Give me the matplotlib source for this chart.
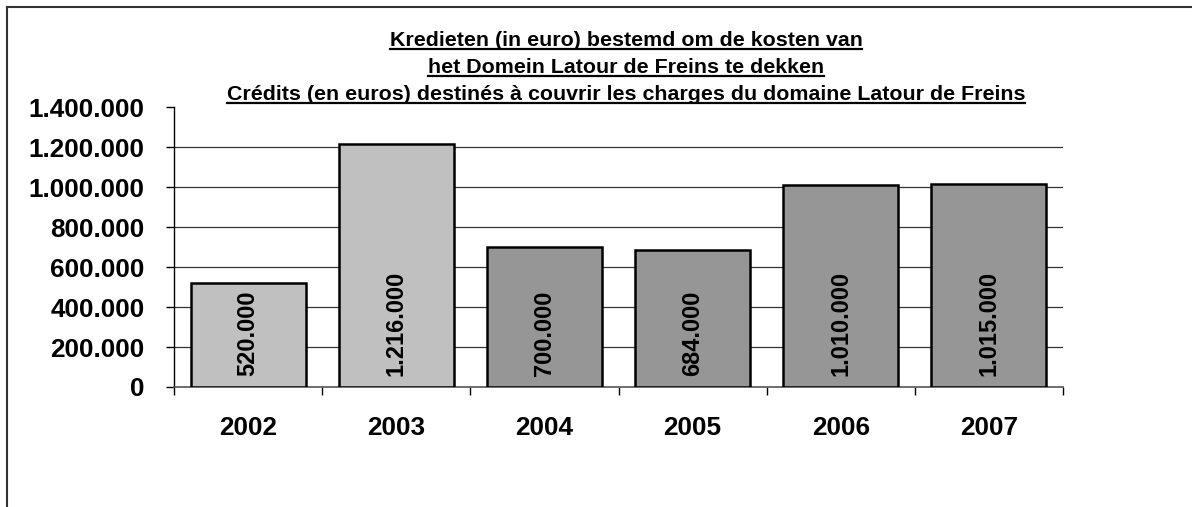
import matplotlib
matplotlib.use("Agg")
import matplotlib.pyplot as plt
from matplotlib.lines import Line2D

plt.rcParams['font.family'] = ['Liberation Sans', 'DejaVu Sans']

# data
years = ['2002', '2003', '2004', '2005', '2006', '2007']
credits = [520000, 1216000, 700000, 684000, 1010000, 1015000]
value_labels = ['520.000', '1.216.000', '700.000', '684.000', '1.010.000', '1.015.000']
y_ticks = [0, 200000, 400000, 600000, 800000, 1000000, 1200000, 1400000]
y_tick_labels = ['0', '200.000', '400.000', '600.000', '800.000',
                 '1.000.000', '1.200.000', '1.400.000']
title_lines = [
    'Kredieten (in euro) bestemd om de kosten van',
    'het Domein Latour de Freins te dekken',
    'Crédits (en euros) destinés à couvrir les charges du domaine Latour de Freins',
]

light = '#C0C0C0'
dark = '#969696'
bar_colors = [light, light, dark, dark, dark, dark]

W, H = 1192, 507
fig = plt.figure(figsize=(W / 100, H / 100), dpi=100)
ax = fig.add_axes([174 / W, 1 - 387 / H, (1063 - 174) / W, (387 - 107.4) / H])

x = list(range(len(years)))
ax.bar(x, credits, width=0.776, color=bar_colors, edgecolor='black',
       linewidth=1.8, zorder=3)

for xi, lab in zip(x, value_labels):
    ax.text(xi, 55000, lab, rotation=90, ha='center', va='bottom',
            fontsize=17, fontweight='bold', zorder=4)

ax.set_xlim(-0.5, len(years) - 0.5)
ax.set_ylim(0, 1400000)

ax.set_yticks(y_ticks)
ax.set_yticklabels(y_tick_labels, fontsize=18.8, fontweight='bold')
ax.tick_params(axis='y', length=6, width=1, direction='out', pad=15, color='black')

ax.set_xticks(x)
ax.set_xticklabels(years, fontsize=18.8, fontweight='bold')
ax.tick_params(axis='x', which='major', length=0, pad=21)
ax.set_xticks([i - 0.5 for i in range(len(years) + 1)], minor=True)
ax.tick_params(axis='x', which='minor', length=6, width=1, direction='out', color='black')

ax.yaxis.grid(True, color='#333333', linewidth=0.9, zorder=0)
ax.set_axisbelow(True)
ax.get_ygridlines()[-1].set_visible(False)
ax.get_ygridlines()[0].set_visible(False)

for s in ['top', 'right']:
    ax.spines[s].set_visible(False)
ax.spines['left'].set_color('black')
ax.spines['left'].set_linewidth(1)
ax.spines['bottom'].set_color('#555555')
ax.spines['bottom'].set_linewidth(1.2)

# outer frame (left and top only, rest is cropped)
fig.add_artist(Line2D([7 / W, 7 / W], [0, 1 - 7 / H], color='#333333', lw=1.5))
fig.add_artist(Line2D([7 / W, 1], [1 - 7 / H, 1 - 7 / H], color='#333333', lw=1.5))

# underlined title
baselines = [46, 73, 99.5]
texts = []
for line, yb in zip(title_lines, baselines):
    t = fig.text(626 / W, 1 - yb / H, line, ha='center', va='baseline',
                 fontsize=15.4, fontweight='bold')
    texts.append((t, yb))

fig.canvas.draw()
renderer = fig.canvas.get_renderer()
for t, yb in texts:
    bb = t.get_window_extent(renderer)
    yu = 1 - (yb + 3) / H
    fig.add_artist(Line2D([bb.x0 / W, bb.x1 / W], [yu, yu], color='black', lw=1.6))

fig.savefig('out.png', dpi=100)
